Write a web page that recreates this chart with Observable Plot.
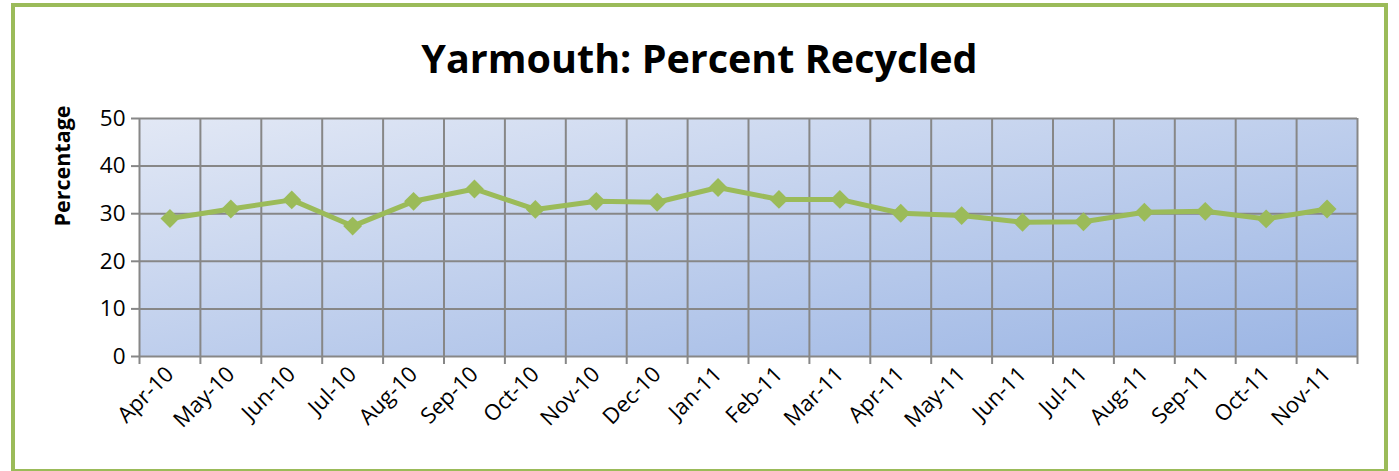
<!DOCTYPE html>
<html>
<head>
<meta charset="utf-8">
<script src="https://cdn.jsdelivr.net/npm/d3@7"></script>
<script src="https://cdn.jsdelivr.net/npm/@observablehq/plot@0.6"></script>
<style>
  html, body { margin: 0; padding: 0; background: #fff; }
  #page { position: relative; width: 1399px; height: 471px; overflow: hidden; background: #fff; }
  #frame { position: absolute; left: 11px; top: 3px; width: 1377px; height: 470px; box-sizing: border-box; border: 4px solid #9bbb59; }
  #title { position: absolute; left: 0; top: 38px; width: 1399px; text-align: center; font-family: "Open Sans", sans-serif; font-weight: bold; font-size: 39.5px; line-height: 40px; color: #000; }
  #chart { position: absolute; left: 0; top: 0; }
</style>
</head>
<body>
<div id="page">
  <div id="frame"></div>
  <div id="chart"></div>
  <div id="title">Yarmouth: Percent Recycled</div>
</div>
<script>
const months = ["Apr-10","May-10","Jun-10","Jul-10","Aug-10","Sep-10","Oct-10","Nov-10","Dec-10","Jan-11","Feb-11","Mar-11","Apr-11","May-11","Jun-11","Jul-11","Aug-11","Sep-11","Oct-11","Nov-11"];
const percent = [29.0, 31.0, 32.9, 27.4, 32.6, 35.2, 30.9, 32.6, 32.4, 35.5, 33.0, 33.0, 30.1, 29.6, 28.2, 28.3, 30.3, 30.5, 28.9, 31.0];
const yTicks = [0, 10, 20, 30, 40, 50];
const yLabel = "Percentage";

const data = months.map((m, i) => ({month: m, i, value: percent[i]}));
const n = months.length;
const boundaries = d3.range(n + 1);
const centers = d3.range(n).map(i => i + 0.5);
const green = "#9bbb59";
const gridColor = "#878787";

const svg = Plot.plot({
  width: 1399,
  height: 471,
  marginLeft: 139,
  marginRight: 42,
  marginTop: 118,
  marginBottom: 115,
  style: {fontFamily: "'Open Sans', sans-serif", background: "transparent", color: "#000"},
  x: {domain: [0, n]},
  y: {domain: [0, 50]},
  marks: [
    Plot.frame({fill: "url(#bgGrad)"}),
    Plot.gridX(boundaries, {stroke: gridColor, strokeOpacity: 1, strokeWidth: 2}),
    Plot.gridY(yTicks, {stroke: gridColor, strokeOpacity: 1, strokeWidth: 2}),
    Plot.axisY(yTicks, {tickSize: 8, tickPadding: 6, fontSize: 22.5, label: null, stroke: gridColor, strokeWidth: 2, color: "#000"}),
    Plot.axisX(boundaries, {tickSize: 8, tickFormat: () => "", label: null, stroke: gridColor, strokeWidth: 2}),
    Plot.axisX(centers, {tickSize: 0, tickPadding: 14, tickRotate: -45, fontSize: 22, label: null, tickFormat: v => months[Math.floor(v)]}),
    Plot.line(data, {x: d => d.i + 0.5, y: "value", stroke: green, strokeWidth: 5}),
    Plot.dot(data, {x: d => d.i + 0.5, y: "value", symbol: "diamond2", r: 8.5, fill: green, stroke: "none"})
  ]
});

const defs = d3.select(svg).insert("defs", ":first-child");
const grad = defs.append("linearGradient").attr("id", "bgGrad").attr("x1", 0).attr("y1", 0).attr("x2", 1).attr("y2", 1);
grad.append("stop").attr("offset", "0%").attr("stop-color", "#e2e8f5");
grad.append("stop").attr("offset", "100%").attr("stop-color", "#9bb5e4");

d3.select(svg).append("text")
  .attr("transform", "translate(70,166) rotate(-90)")
  .attr("text-anchor", "middle")
  .attr("font-family", "'Open Sans', sans-serif")
  .attr("font-weight", "bold")
  .attr("font-size", 21.5)
  .attr("fill", "#000")
  .text(yLabel);

document.getElementById("chart").appendChild(svg);
</script>
</body>
</html>
